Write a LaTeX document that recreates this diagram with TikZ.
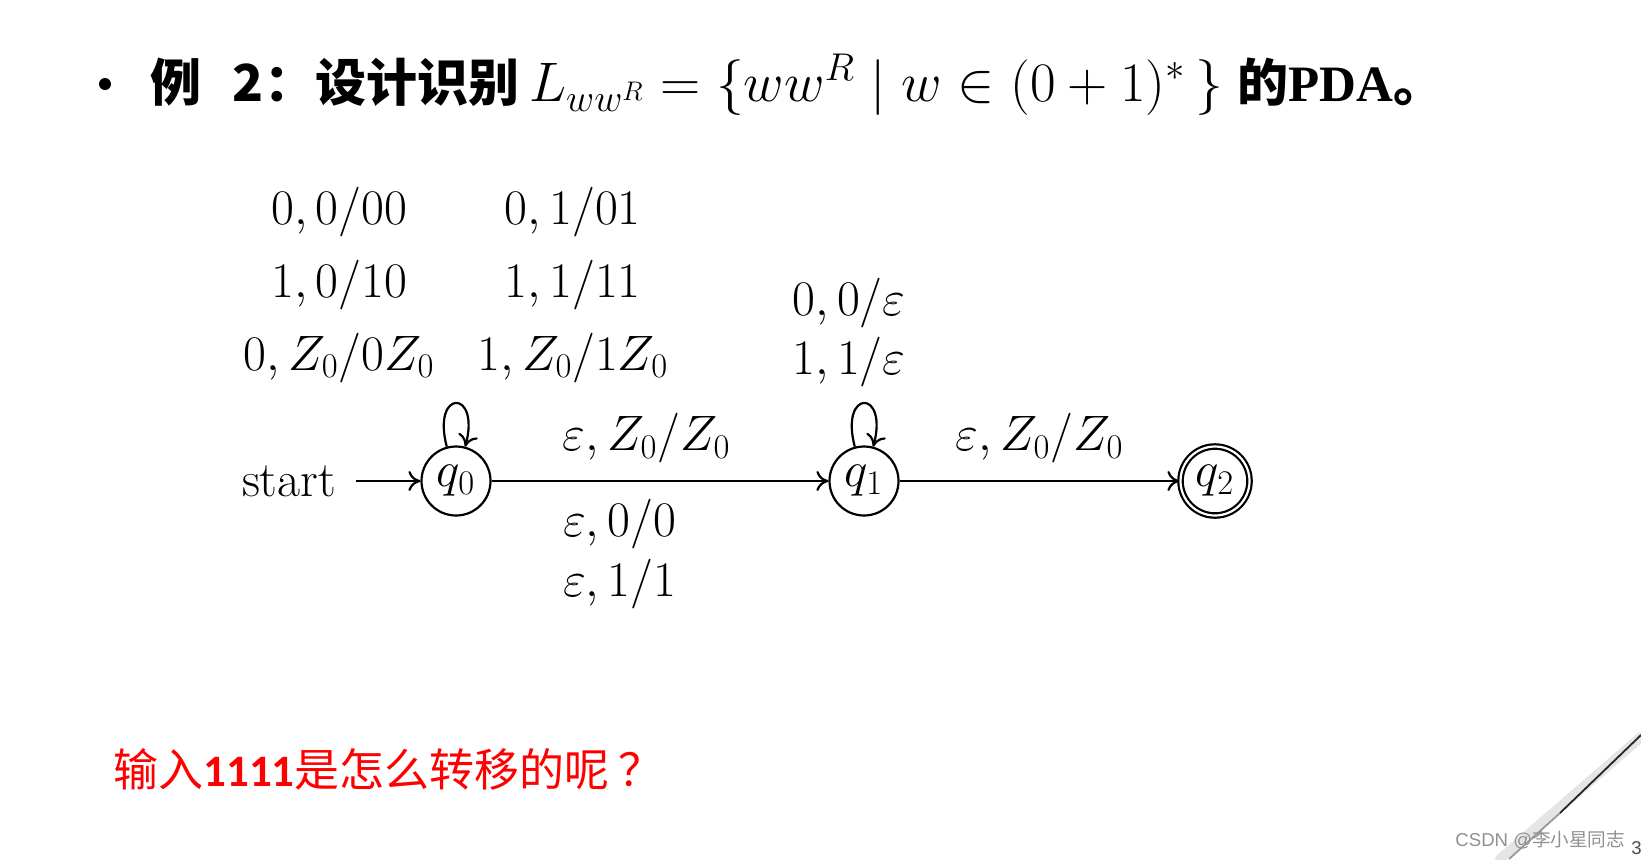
\documentclass[tikz,border=0pt]{standalone}
\usepackage{fontspec}
\usepackage{amsmath}
\usepackage{graphicx}
\usetikzlibrary{arrows.meta, positioning}
\newfontfamily\cjkfont{Noto Sans CJK SC}
\newfontfamily\wmfont{Liberation Sans}
\newfontfamily\pdafont{Liberation Serif}
\newfontfamily\digitfont{Carlito}
\definecolor{askred}{RGB}{255,0,0}
\definecolor{markgray}{RGB}{145,145,145}

\tikzset{
  pdastate/.style={circle, draw, line width=1.1pt, minimum size=34.5pt, inner sep=0pt},
  finalstate/.style={pdastate, double, double distance=1.1pt},
  trans/.style={-{To[length=6pt,width=10pt]}, line width=1.1pt},
}

\begin{document}
\begin{tikzpicture}[x=0.5pt, y=-0.5pt, font=\fontsize{25}{30}\selectfont]
  \fill[white] (0,0) rectangle (1641,859);
  \useasboundingbox (0,0) rectangle (1641,859);

  % title line
  \node[circle, fill, inner sep=0pt, minimum size=6pt] (bullet) at (105,84) {};
  \node[anchor=base west, inner sep=0pt, font=\fontsize{25.5}{30}\selectfont] (title) at (150,101)
    {{\cjkfont\bfseries 例\hspace{0.62em}2：设计识别}\hspace{5pt}\scalebox{1.12}{$L_{ww^R} = \{ww^R \mid w \in (0+1)^{*}\,\}$}\hspace{7pt}{\cjkfont\bfseries 的}{\pdafont\bfseries PDA}{\cjkfont\bfseries 。}};

  % states
  \node[pdastate] (q0) at (456,481) {$q_0$};
  \node[pdastate] (q1) at (864,481) {$q_1$};
  \node[finalstate] (q2) at (1215,481) {$q_2$};
  \node[left=32pt of q0, inner xsep=10pt] (start) {start};

  % transitions
  \draw[trans] (start) -- (q0);
  \path[trans] (q0) edge[loop above, min distance=30pt]
    node[above=1.5pt] (push) {\def\arraystretch{1.22}$\begin{array}{@{}c@{\hspace{21.5pt}}c@{}}
      0,0/00 & 0,1/01\\
      1,0/10 & 1,1/11\\
      0,Z_0/0Z_0 & 1,Z_0/1Z_0
    \end{array}$} (q0);
  \draw[trans] (q0) -- node[above=5pt, pos=0.46] (guess) {$\varepsilon,Z_0/Z_0$}
    node[below=5pt, pos=0.38, align=left, font=\fontsize{25}{30}\selectfont] (keep) {$\varepsilon,0/0$\\$\varepsilon,1/1$} (q1);
  \path[trans] (q1) edge[loop above, min distance=30pt]
    node[above=4pt, align=left, xshift=-7.5pt, font=\fontsize{25}{29.5}\selectfont] (pop) {$0,0/\varepsilon$\\$1,1/\varepsilon$} (q1);
  \draw[trans] (q1) -- node[above=5pt] (accept) {$\varepsilon,Z_0/Z_0$} (q2);

  % question
  \node[anchor=west, inner sep=0pt, text=askred, font=\cjkfont\fontsize{22.5}{26}\selectfont] (ask) at (113,769)
    {输入{\digitfont\bfseries 1111}是怎么转移的呢\hspace{0.2em}？};

  % page corner and watermark
  \draw[line width=5pt, black!10, line cap=round] (1500,859) -- (1641,737);
  \draw[line width=0.9pt, black!40] (1509,859) -- (1560,813);
  \draw[line width=0.9pt, black!85] (1560,813) -- (1641,735);
  \node[anchor=west, inner sep=0pt, text=markgray, font=\fontsize{9.3}{11}\selectfont] (mark) at (1455,840)
    {\wmfont CSDN @\cjkfont 李小星同志};
  \node[anchor=west, inner sep=0pt, text=black!70, font=\wmfont\fontsize{9.3}{11}\selectfont] (pageno) at (1631,848) {3};
\end{tikzpicture}
\end{document}
